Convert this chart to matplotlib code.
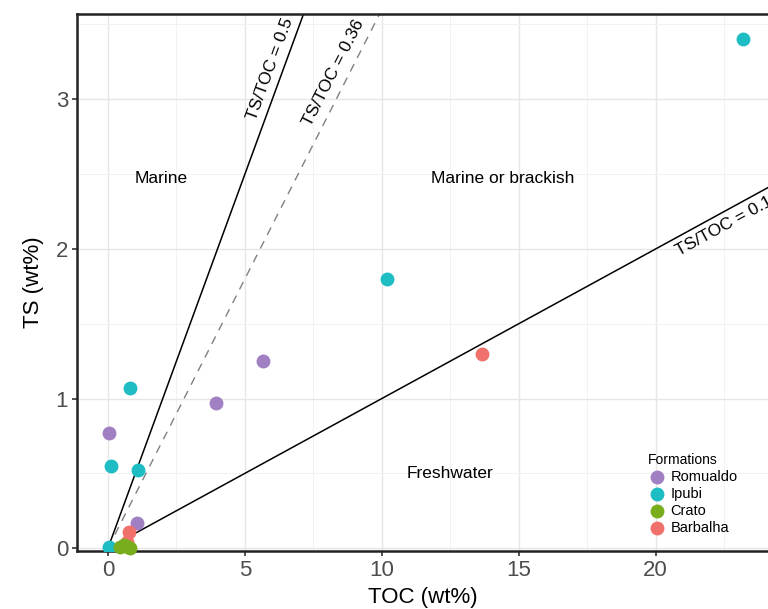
import matplotlib.pyplot as plt
import numpy as np

plt.rcParams.update({
    "font.family": ["Liberation Sans", "DejaVu Sans"],
    "font.size": 11,
})

# data (TOC, TS in wt%)
romualdo_toc = [0.05, 3.95, 5.65, 1.05]
romualdo_ts = [0.77, 0.97, 1.25, 0.17]
ipubi_toc = [23.2, 10.2, 0.8, 0.12, 1.08, 0.02]
ipubi_ts = [3.40, 1.80, 1.07, 0.55, 0.52, 0.01]
crato_toc = [0.45, 0.6, 0.72, 0.8]
crato_ts = [0.01, 0.02, 0.01, 0.0]
barbalha_toc = [13.65, 0.75, 0.7]
barbalha_ts = [1.30, 0.11, 0.04]

ratios = [0.5, 0.36, 0.1]

colors = {"Romualdo": "#A07FC2", "Ipubi": "#1EBDC3", "Crato": "#78AD1E", "Barbalha": "#F0716B"}

fig = plt.figure(figsize=(7.68, 6.09), dpi=100)
ax = fig.add_axes([0.1003, 0.095, 0.8997, 0.882])

xmin, xmax = -1.13, 24.1
ymin, ymax = -0.02, 3.57
ax.set_xlim(xmin, xmax)
ax.set_ylim(ymin, ymax)

ax.set_xticks([0, 5, 10, 15, 20])
ax.set_yticks([0, 1, 2, 3])
ax.set_xticks(np.arange(2.5, 24, 5), minor=True)
ax.set_yticks([0.5, 1.5, 2.5, 3.5], minor=True)
ax.grid(True, which="major", color="#E6E6E6", linewidth=1.0)
ax.grid(True, which="minor", color="#F2F2F2", linewidth=0.7)
ax.set_axisbelow(True)

for s in ["left", "top", "bottom"]:
    ax.spines[s].set_linewidth(1.8)
    ax.spines[s].set_color("#222222")
ax.spines["right"].set_visible(False)
ax.tick_params(which="major", length=3.5, width=1.2, color="#333333",
               labelsize=16, labelcolor="#4D4D4D", pad=3)
ax.tick_params(which="minor", length=0)

# ratio lines
xs = np.array([0, xmax])
ax.plot(xs, ratios[0] * xs, color="black", linewidth=1.1, zorder=2)
ax.plot(xs, ratios[1] * xs, color="#808080", linewidth=1.0, linestyle=(0, (6, 5)), zorder=2)
ax.plot(xs, ratios[2] * xs, color="black", linewidth=1.1, zorder=2)

ax.text(5.92, 3.2, "TS/TOC = 0.5", rotation=69.9, ha="center", va="center", fontsize=12.5,
        rotation_mode="anchor")
ax.text(8.25, 3.18, "TS/TOC = 0.36", rotation=63, ha="center", va="center", fontsize=12.5,
        rotation_mode="anchor")
ax.text(22.5, 2.15, "TS/TOC = 0.1", rotation=28.6, ha="center", va="center", fontsize=12.5,
        rotation_mode="anchor", clip_on=False)

ax.text(1.93, 2.47, "Marine", ha="center", va="center", fontsize=12.5)
ax.text(14.4, 2.47, "Marine or brackish", ha="center", va="center", fontsize=12.5)
ax.text(12.5, 0.5, "Freshwater", ha="center", va="center", fontsize=12.5)

ms = 100
ax.scatter(romualdo_toc, romualdo_ts, s=ms, color=colors["Romualdo"], label="Romualdo", zorder=3, linewidths=0)
ax.scatter(ipubi_toc, ipubi_ts, s=ms, color=colors["Ipubi"], label="Ipubi", zorder=3, linewidths=0)
ax.scatter(barbalha_toc, barbalha_ts, s=ms, color=colors["Barbalha"], label="Barbalha", zorder=3, linewidths=0)
ax.scatter(crato_toc, crato_ts, s=ms, color=colors["Crato"], label="Crato", zorder=3, linewidths=0, clip_on=False)

h, l = ax.get_legend_handles_labels()
order = [l.index(n) for n in ["Romualdo", "Ipubi", "Crato", "Barbalha"]]
leg = ax.legend([h[i] for i in order], [l[i] for i in order], title="Formations",
                loc="lower left", bbox_to_anchor=(0.818, 0.02), frameon=False,
                fontsize=10.5, title_fontsize=10, handletextpad=0.35, labelspacing=0.2,
                borderaxespad=0, handlelength=1.2, markerscale=1.0)
leg._legend_box.align = "left"

ax.set_xlabel("TOC (wt%)", fontsize=16, labelpad=4)
ax.set_ylabel("TS (wt%)", fontsize=16, labelpad=8)

fig.savefig("out.png", dpi=100)
